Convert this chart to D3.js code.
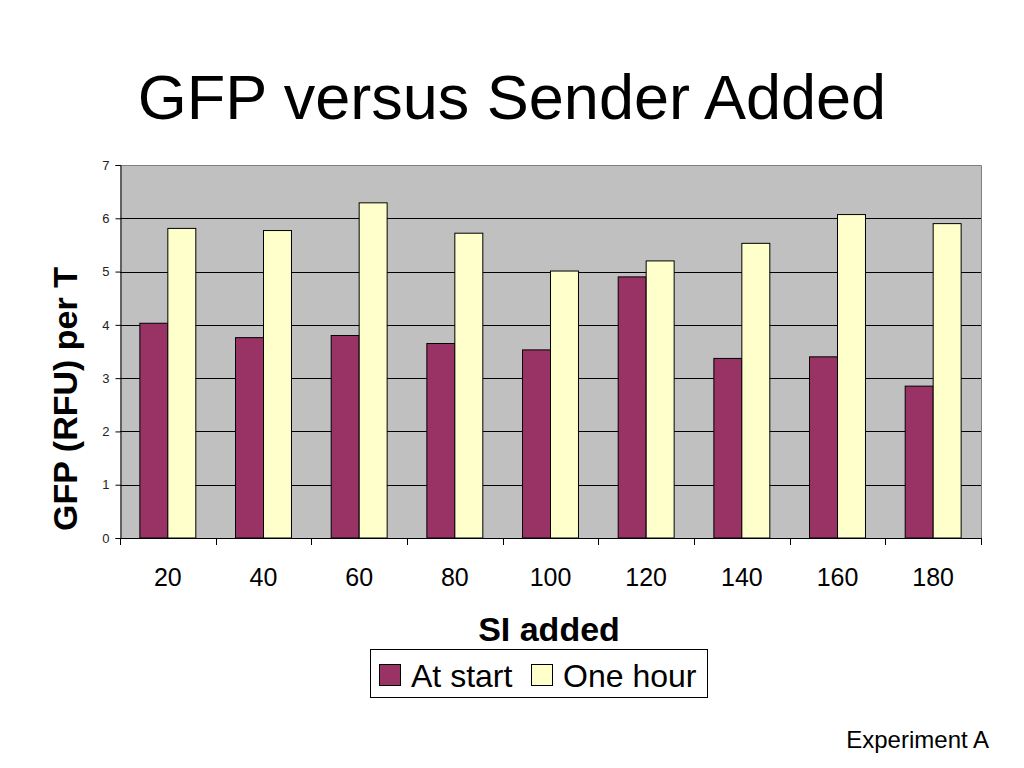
<!DOCTYPE html>
<html>
<head>
<meta charset="utf-8">
<script src="https://cdn.jsdelivr.net/npm/d3@7"></script>
<style>
  body { margin: 0; background: #ffffff; }
  svg { display: block; font-family: "Liberation Sans", Arial, sans-serif; }
</style>
</head>
<body>
<svg id="chart" width="1024" height="768"></svg>
<script>
const categories = ["20", "40", "60", "80", "100", "120", "140", "160", "180"];
const seriesNames = ["At start", "One hour"];
const atStart = [4.03, 3.76, 3.80, 3.65, 3.53, 4.90, 3.37, 3.40, 2.85];
const oneHour = [5.81, 5.77, 6.29, 5.72, 5.01, 5.20, 5.53, 6.07, 5.90];
const yTicks = [0, 1, 2, 3, 4, 5, 6, 7];
const colors = ["#993366", "#ffffcc"];

(function () {
const svg = d3.select("#chart");
const pLeft = 120, pRight = 981, pTop = 165, pBottom = 538;

const x0 = d3.scaleBand().domain(categories).range([pLeft, pRight]).padding(0);
const x1 = d3.scaleBand().domain(seriesNames).range([0, x0.bandwidth()]).paddingInner(0).paddingOuter(0.71);
const y = d3.scaleLinear().domain([0, 7]).range([pBottom, pTop]);

// Title
svg.append("text").attr("x", 512).attr("y", 119).attr("text-anchor", "middle")
  .attr("font-size", 63).attr("fill", "#000").text("GFP versus Sender Added");

// Plot background
svg.append("rect").attr("x", pLeft).attr("y", pTop).attr("width", pRight - pLeft).attr("height", pBottom - pTop)
  .attr("fill", "#c0c0c0");

// Grid lines
svg.append("g").selectAll("line").data(yTicks.filter(d => d > 0 && d < 7)).join("line")
  .attr("x1", pLeft).attr("x2", pRight)
  .attr("y1", d => Math.round(y(d)) + 0.5).attr("y2", d => Math.round(y(d)) + 0.5)
  .attr("stroke", "#000").attr("stroke-width", 1);

// Plot border (top & right gray)
svg.append("path")
  .attr("d", `M${pLeft},${pTop + 0.5}H${pRight + 0.5}V${pBottom}`)
  .attr("fill", "none").attr("stroke", "#808080").attr("stroke-width", 1);

// Bars
const data = categories.map((c, i) => ({ cat: c, vals: [atStart[i], oneHour[i]] }));
const groups = svg.append("g").selectAll("g").data(data).join("g")
  .attr("transform", d => `translate(${x0(d.cat)},0)`);
groups.selectAll("rect").data(d => d.vals.map((v, j) => ({ s: seriesNames[j], v, j }))).join("rect")
  .attr("x", d => x1(d.s))
  .attr("y", d => y(d.v))
  .attr("width", x1.bandwidth())
  .attr("height", d => pBottom - y(d.v))
  .attr("fill", d => colors[d.j])
  .attr("stroke", "#000").attr("stroke-width", 1);

// Y axis
const yAxis = svg.append("g").attr("transform", `translate(${pLeft + 0.5},0)`)
  .call(d3.axisLeft(y).tickValues(yTicks).tickSize(5).tickPadding(6).tickFormat(d3.format("d")));
yAxis.select(".domain").attr("stroke", "#000");
yAxis.selectAll(".tick line").attr("stroke", "#000");
yAxis.selectAll("text").attr("font-size", 13).attr("fill", "#222").attr("font-family", "Liberation Sans, Arial, sans-serif");

// X axis
const xAxis = svg.append("g").attr("transform", `translate(0,${pBottom + 0.5})`)
  .call(d3.axisBottom(x0).tickSize(0).tickPadding(30));
xAxis.select(".domain").attr("stroke", "#000").attr("d", `M${pLeft},0H${pRight}`);
xAxis.selectAll("text").attr("font-size", 25).attr("fill", "#000").attr("font-family", "Liberation Sans, Arial, sans-serif");
// category boundary ticks
const bounds = categories.map(c => x0(c)).concat([x0.range()[1]]);
svg.append("g").selectAll("line").data(bounds).join("line")
  .attr("x1", d => Math.round(d) + 0.5).attr("x2", d => Math.round(d) + 0.5)
  .attr("y1", pBottom).attr("y2", pBottom + 7)
  .attr("stroke", "#000");

// Axis titles
svg.append("text").attr("x", 549).attr("y", 641).attr("text-anchor", "middle")
  .attr("font-size", 34).attr("font-weight", "bold").text("SI added");
svg.append("text").attr("transform", "translate(77,399) rotate(-90)").attr("text-anchor", "middle")
  .attr("font-size", 34).attr("font-weight", "bold").text("GFP (RFU) per T");

// Legend
const legend = svg.append("g");
legend.append("rect").attr("x", 370.5).attr("y", 649.5).attr("width", 337).attr("height", 48)
  .attr("fill", "#fff").attr("stroke", "#000");
const legX = [379, 531];
seriesNames.forEach((s, j) => {
  legend.append("rect").attr("x", legX[j] + 0.5).attr("y", 664.5).attr("width", 21).attr("height", 21)
    .attr("fill", colors[j]).attr("stroke", "#000");
  legend.append("text").attr("x", legX[j] + 32).attr("y", 687).attr("font-size", 32).text(s);
});

// Footnote
svg.append("text").attr("x", 989).attr("y", 748).attr("text-anchor", "end")
  .attr("font-size", 24).text("Experiment A");
})();
</script>
</body>
</html>
